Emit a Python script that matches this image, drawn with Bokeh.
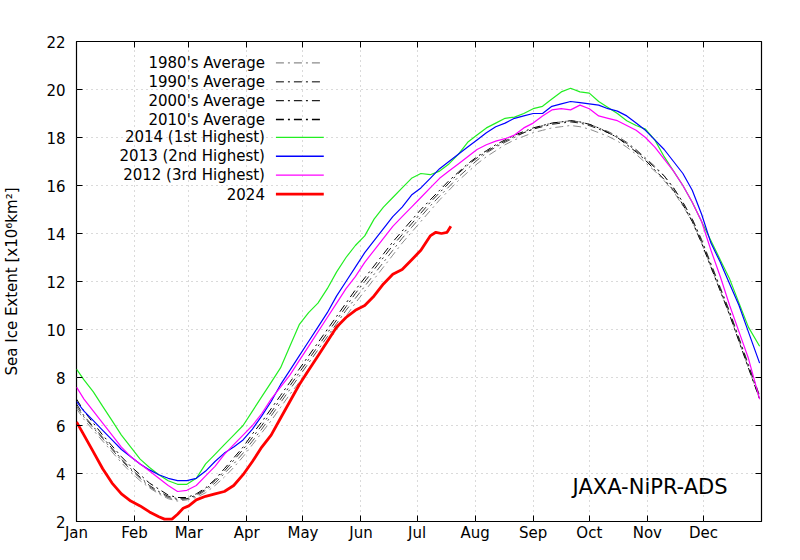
from bokeh.plotting import figure
from bokeh.models import Range1d, FixedTicker, LinearAxis, Label, Grid
from bokeh.embed import file_html
from bokeh.resources import INLINE
from bokeh.core.properties import value

# ---------------- data ----------------
MONTH_STARTS = [1, 32, 61, 92, 122, 153, 183, 214, 245, 275, 306, 336]
MONTH_LABELS = ["Jan", "Feb", "Mar", "Apr", "May", "Jun",
                "Jul", "Aug", "Sep", "Oct", "Nov", "Dec"]
Y_TICKS = [2, 4, 6, 8, 10, 12, 14, 16, 18, 20, 22]

DAYS = [1, 5, 10, 15, 20, 25, 30, 35, 40, 45, 50, 55, 60, 65, 70, 75, 80, 85,
        90, 95, 100, 105, 110, 115, 120, 125, 130, 135, 140, 145, 150, 155,
        160, 165, 170, 175, 180, 185, 190, 195, 200, 205, 210, 215, 220, 225,
        230, 235, 240, 245, 250, 255, 260, 265, 270, 275, 280, 285, 290, 295,
        300, 305, 310, 315, 320, 325, 330, 335, 340, 345, 350, 355, 360, 366]

AVG_1980S = [6.7, 6.25, 5.8, 5.35, 4.9, 4.45, 4.05, 3.7, 3.4, 3.15, 2.95, 2.85,
             2.9, 3.0, 3.2, 3.5, 3.85, 4.25, 4.7, 5.2, 5.7, 6.2, 6.75, 7.3,
             7.8, 8.35, 8.9, 9.45, 10.0, 10.55, 11.1, 11.6, 12.1, 12.6, 13.1,
             13.6, 14.05, 14.5, 14.95, 15.4, 15.8, 16.2, 16.55, 16.9, 17.2,
             17.45, 17.7, 17.9, 18.05, 18.2, 18.3, 18.4, 18.45, 18.5, 18.45,
             18.35, 18.2, 18.05, 17.85, 17.6, 17.3, 16.95, 16.6, 16.2, 15.75,
             15.15, 14.5, 13.6, 12.6, 11.6, 10.6, 9.5, 8.4, 7.1]
AVG_1990S = [6.8, 6.35, 5.9, 5.45, 5.0, 4.55, 4.15, 3.8, 3.45, 3.2, 3.0, 2.9,
             2.95, 3.05, 3.3, 3.6, 4.0, 4.4, 4.85, 5.35, 5.85, 6.4, 6.95, 7.5,
             8.05, 8.6, 9.15, 9.7, 10.25, 10.8, 11.3, 11.8, 12.3, 12.8, 13.3,
             13.8, 14.25, 14.7, 15.15, 15.55, 15.95, 16.35, 16.7, 17.05, 17.35,
             17.6, 17.8, 18.0, 18.2, 18.35, 18.5, 18.6, 18.65, 18.7, 18.65,
             18.55, 18.4, 18.25, 18.05, 17.8, 17.5, 17.15, 16.8, 16.4, 15.9,
             15.3, 14.6, 13.75, 12.75, 11.75, 10.75, 9.65, 8.55, 7.25]
AVG_2000S = [6.9, 6.4, 5.95, 5.5, 5.05, 4.6, 4.2, 3.85, 3.5, 3.25, 3.05, 2.95,
             2.95, 3.1, 3.35, 3.7, 4.1, 4.55, 5.0, 5.5, 6.0, 6.55, 7.1, 7.65,
             8.2, 8.75, 9.3, 9.85, 10.4, 10.95, 11.5, 12.0, 12.5, 13.0, 13.5,
             13.95, 14.4, 14.85, 15.3, 15.7, 16.1, 16.5, 16.85, 17.15, 17.4,
             17.65, 17.85, 18.05, 18.2, 18.35, 18.45, 18.55, 18.6, 18.65, 18.6,
             18.5, 18.35, 18.2, 18.0, 17.75, 17.45, 17.1, 16.75, 16.4, 15.9,
             15.3, 14.6, 13.7, 12.7, 11.7, 10.7, 9.6, 8.5, 7.2]
AVG_2010S = [7.1, 6.6, 6.1, 5.6, 5.15, 4.7, 4.3, 3.95, 3.6, 3.35, 3.1, 3.0,
             3.0, 3.15, 3.4, 3.75, 4.2, 4.65, 5.1, 5.65, 6.15, 6.7, 7.25, 7.8,
             8.35, 8.9, 9.45, 10.0, 10.55, 11.1, 11.65, 12.15, 12.65, 13.15,
             13.65, 14.1, 14.55, 15.0, 15.4, 15.8, 16.2, 16.55, 16.9, 17.2,
             17.45, 17.7, 17.9, 18.1, 18.25, 18.4, 18.5, 18.6, 18.65, 18.7,
             18.65, 18.55, 18.4, 18.2, 18.0, 17.7, 17.4, 17.05, 16.65, 16.25,
             15.8, 15.2, 14.5, 13.6, 12.6, 11.6, 10.6, 9.5, 8.4, 7.1]
Y2014 = [8.35, 7.9, 7.4, 6.8, 6.2, 5.6, 5.1, 4.6, 4.25, 3.95, 3.7, 3.55, 3.55,
         3.8, 4.4, 4.8, 5.2, 5.6, 6.0, 6.6, 7.2, 7.8, 8.4, 9.3, 10.2, 10.7,
         11.1, 11.7, 12.4, 13.0, 13.5, 13.9, 14.6, 15.1, 15.5, 15.9, 16.3,
         16.5, 16.45, 16.6, 16.9, 17.3, 17.8, 18.1, 18.4, 18.6, 18.8, 18.85,
         19.0, 19.2, 19.3, 19.6, 19.9, 20.05, 19.9, 19.85, 19.5, 19.25, 19.0,
         18.7, 18.5, 18.35, 17.9, 17.2, 16.6, 16.0, 15.3, 14.5, 13.7, 12.9,
         12.1, 11.1, 10.1, 9.3]
Y2013 = [7.0, 6.6, 6.2, 5.8, 5.4, 5.0, 4.7, 4.4, 4.15, 3.95, 3.8, 3.7, 3.7,
         3.8, 4.1, 4.5, 4.85, 5.1, 5.4, 5.85, 6.4, 7.0, 7.7, 8.3, 8.9, 9.5,
         10.1, 10.7, 11.4, 12.0, 12.6, 13.2, 13.7, 14.2, 14.7, 15.1, 15.6,
         15.9, 16.3, 16.7, 17.0, 17.3, 17.6, 17.9, 18.2, 18.45, 18.6, 18.8,
         18.9, 19.0, 19.0, 19.3, 19.4, 19.5, 19.45, 19.4, 19.35, 19.2, 19.1,
         18.9, 18.6, 18.3, 17.9, 17.5, 17.0, 16.5, 15.8, 14.8, 13.6, 12.8,
         11.9, 11.0, 9.9, 8.6]
Y2012 = [7.6, 7.1, 6.6, 6.1, 5.6, 5.1, 4.7, 4.4, 4.1, 3.8, 3.5, 3.25, 3.3,
         3.5, 3.9, 4.3, 4.8, 5.2, 5.6, 6.0, 6.5, 7.1, 7.6, 8.1, 8.7, 9.3,
         9.9, 10.5, 11.1, 11.7, 12.2, 12.8, 13.3, 13.8, 14.3, 14.7, 15.1,
         15.5, 15.9, 16.3, 16.6, 16.9, 17.2, 17.5, 17.7, 17.85, 17.95, 18.1,
         18.4, 18.6, 18.9, 19.15, 19.2, 19.15, 19.35, 19.2, 18.9, 18.8, 18.7,
         18.5, 18.3, 18.0, 17.6, 17.1, 16.6, 16.0, 15.3, 14.5, 13.3, 12.2,
         11.0, 9.9, 8.8, 7.1]

DAYS_2024 = [1, 5, 10, 15, 20, 25, 30, 35, 40, 45, 48, 52, 55, 58, 61, 65, 70,
             75, 80, 85, 90, 95, 100, 105, 110, 115, 120, 125, 130, 135, 140,
             145, 150, 155, 160, 165, 170, 175, 180, 185, 190, 193, 196, 199,
             201]
Y2024 = [6.15, 5.6, 4.9, 4.2, 3.6, 3.15, 2.85, 2.65, 2.4, 2.2, 2.1, 2.1, 2.3,
         2.55, 2.65, 2.9, 3.05, 3.15, 3.25, 3.5, 3.95, 4.5, 5.1, 5.6, 6.3, 7.0,
         7.7, 8.3, 8.9, 9.5, 10.1, 10.5, 10.8, 11.0, 11.4, 11.9, 12.3, 12.5,
         12.9, 13.3, 13.9, 14.05, 14.0, 14.05, 14.3]

SERIES = [
    ("1980's Average", DAYS, AVG_1980S, "#8c8c8c", 1, "8 4 2 4"),
    ("1990's Average", DAYS, AVG_1990S, "#555555", 1, "8 4 2 4"),
    ("2000's Average", DAYS, AVG_2000S, "#222222", 1, "8 4 2 4"),
    ("2010's Average", DAYS, AVG_2010S, "#000000", 1, "8 4 2 4"),
    ("2014 (1st Highest)", DAYS, Y2014, "#22ee22", 1.2, "solid"),
    ("2013 (2nd Highest)", DAYS, Y2013, "#0000ff", 1.2, "solid"),
    ("2012 (3rd Highest)", DAYS, Y2012, "#ff00ff", 1.2, "solid"),
    ("2024", DAYS_2024, Y2024, "#ff0000", 2.8, "solid"),
]

FONT = "DejaVu Sans"

# ---------------- figure ----------------
FW, FH = 687, 483
p = figure(width=784, height=544, output_backend="svg", toolbar_location=None,
           x_range=Range1d(1, 367), y_range=Range1d(2, 22),
           x_axis_type=None, y_axis_type=None,
           min_border_left=74, min_border_right=23,
           min_border_top=41, min_border_bottom=20)
p.outline_line_color = "black"
p.outline_line_width = 1.2
p.background_fill_color = "white"
p.border_fill_color = "white"

p.extra_x_ranges = {"px": Range1d(0, FW)}
p.extra_y_ranges = {"py": Range1d(FH, 0)}


def make_axis(ticks, labels=None, standoff=11):
    ax = LinearAxis(ticker=FixedTicker(ticks=ticks), major_tick_in=6,
                    major_tick_out=0, minor_tick_line_color=None,
                    axis_line_color=None, major_tick_line_color="black",
                    major_tick_line_width=1)
    if labels is not None:
        ax.major_label_text_font = FONT
        ax.major_label_text_font_size = "15px"
        ax.major_label_text_color = "black"
        ax.major_label_standoff = standoff
        if labels:
            ax.major_label_overrides = dict(zip(ticks, labels))
    else:
        ax.major_label_overrides = {t: "" for t in ticks}
        ax.major_label_text_font_size = "0px"
        ax.major_label_standoff = 0
    return ax


left = make_axis(Y_TICKS, [])
left.axis_label = "Sea Ice Extent [x10\u2076km\u00b2]"
left.axis_label_text_font = FONT
left.axis_label_text_font_size = "15px"
left.axis_label_text_font_style = "normal"
left.axis_label_text_color = "black"
left.axis_label_standoff = 22
p.add_layout(left, "left")
p.add_layout(make_axis(Y_TICKS), "right")
bottom = make_axis(MONTH_STARTS, MONTH_LABELS, standoff=2)
p.add_layout(bottom, "below")
p.add_layout(make_axis(MONTH_STARTS), "above")

for dim, tk in ((0, MONTH_STARTS), (1, Y_TICKS)):
    p.add_layout(Grid(dimension=dim, ticker=FixedTicker(ticks=tk),
                      grid_line_color="#b4b4b4", grid_line_dash="1 4",
                      grid_line_width=1))

# title
p.add_layout(Label(x=(p.x_range.start + p.x_range.end) / 2, y=p.y_range.end,
                   y_offset=19, text="Antarctic Sea Ice Extent Graph",
                   text_align="center", text_baseline="alphabetic",
                   text_font=FONT, text_font_size="21px", text_color="black"))

# data lines
for name, xs, ys, color, w, dash in SERIES:
    p.line(xs, ys, line_color=color, line_width=w, line_dash=dash)

# legend (text right-aligned, sample to the right), pixel coordinates
LEGEND_ROWS = [21.5, 40.5, 59.5, 78.5, 96.5, 115.5, 134.5, 153.5]
for yy, (name, xs, ys, color, w, dash) in zip(LEGEND_ROWS, SERIES):
    p.text(x=[189], y=[yy], text=[name], x_range_name="px", y_range_name="py",
           text_align="right", text_baseline="middle",
           text_font=value(FONT), text_font_size="15px", text_color="black")
    p.line(x=[200, 248], y=[yy, yy], x_range_name="px", y_range_name="py",
           line_color=color, line_width=max(w, 1.4) if w < 2 else w,
           line_dash=dash)

# source label
p.text(x=[653], y=[448], text=["JAXA-NiPR-ADS"], x_range_name="px",
       y_range_name="py", text_align="right", text_baseline="middle",
       text_font=value(FONT), text_font_size="21px", text_color="black")

open("out.html", "w").write(file_html(p, INLINE))
